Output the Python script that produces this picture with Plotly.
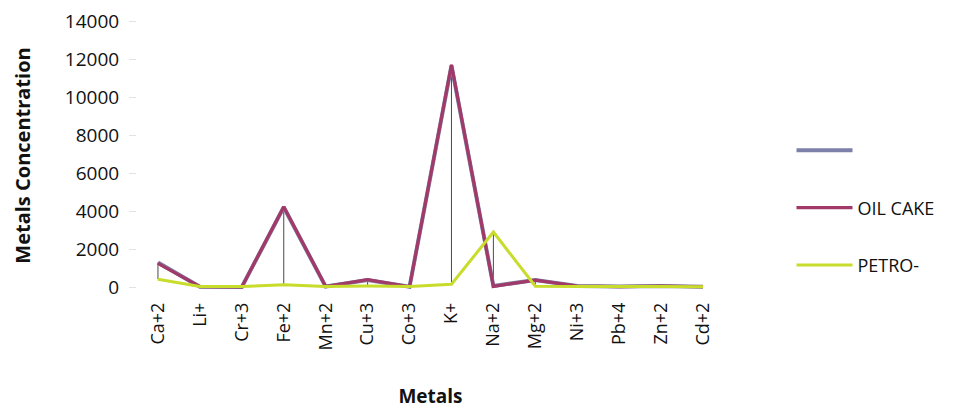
import plotly.graph_objects as go

# Metal ions along the category axis
metals = ["Ca+2", "Li+", "Cr+3", "Fe+2", "Mn+2", "Cu+3", "Co+3",
          "K+", "Na+2", "Mg+2", "Ni+3", "Pb+4", "Zn+2", "Cd+2"]

# Concentrations for each sample
unnamed_vals = [1300, 20, 10, 4200, 30, 380, 20, 11650, 60, 380, 60, 30, 60, 20]
oil_cake_vals = [1250, 20, 10, 4230, 30, 390, 20, 11700, 40, 370, 60, 30, 50, 20]
petro_vals = [420, 30, 30, 130, 40, 60, 40, 150, 2900, 50, 30, 40, 30, 20]

y_ticks = list(range(0, 14001, 2000))

series = [
    (" ", unnamed_vals, "#7d80a8", 4),
    ("OIL CAKE", oil_cake_vals, "#a13a68", 3.2),
    ("PETRO-", petro_vals, "#c8dc2c", 3),
]

fig = go.Figure()

# High-low lines joining the largest and smallest value in each category
hl_x, hl_y = [], []
for i, m in enumerate(metals):
    vals = [unnamed_vals[i], oil_cake_vals[i], petro_vals[i]]
    hl_x += [m, m, None]
    hl_y += [max(vals), min(vals), None]
fig.add_trace(go.Scatter(x=hl_x, y=hl_y, mode="lines",
                         line=dict(color="#4a4a4a", width=1),
                         showlegend=False, hoverinfo="skip"))

for k, (name, vals, color, width) in enumerate(series):
    fig.add_trace(go.Scatter(
        x=metals, y=vals, name=name, mode="lines",
        line=dict(color=color, width=width),
        legendgroup=f"g{k}",
    ))

fig.update_layout(
    width=976, height=409,
    margin=dict(l=137, r=252, t=21, b=119),
    paper_bgcolor="white", plot_bgcolor="white",
    font=dict(family="Open Sans, Liberation Sans, Arial", color="#111111"),
    showlegend=True,
    legend=dict(
        x=1.115, xanchor="left", y=0.305, yanchor="middle",
        font=dict(size=18, color="#111111"),
        tracegroupgap=31, itemwidth=56,
        bgcolor="rgba(0,0,0,0)",
    ),
)

fig.update_xaxes(
    type="category", range=[-0.5, len(metals) - 0.5],
    tickangle=-90, tickfont=dict(size=18),
    showgrid=False, showline=False, zeroline=False,
    ticks="", ticklabelstandoff=8, automargin=False,
    title=dict(text="<b>Metals</b>", font=dict(size=19), standoff=40),
)

fig.update_yaxes(
    range=[-150, 14000], tickvals=y_ticks,
    ticktext=[str(v) for v in y_ticks],
    tickfont=dict(size=19),
    showgrid=False, showline=False, zeroline=False,
    ticks="outside", ticklen=7, tickcolor="#e2e2e2",
    ticklabelstandoff=6, automargin=False,
    title=dict(text="<b>Metals Concentration</b>", font=dict(size=20), standoff=28),
)

fig.write_html("out.html")
